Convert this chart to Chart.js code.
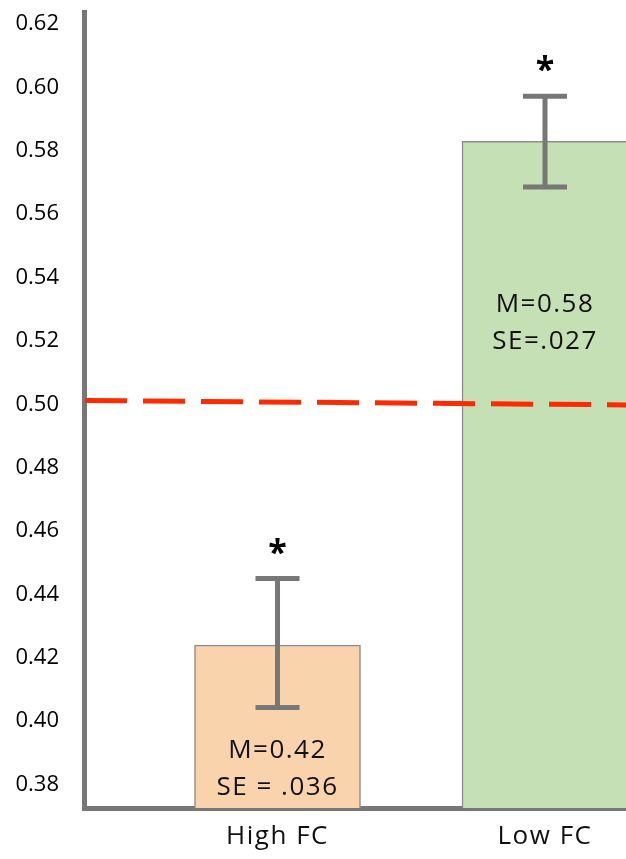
<!DOCTYPE html>
<html>
<head>
<meta charset="utf-8">
<script src="https://cdn.jsdelivr.net/npm/chart.js@4/dist/chart.umd.min.js"></script>
<style>
html,body{margin:0;padding:0;background:#fff;overflow:hidden}
#wrap{width:626px;height:859px;position:relative}
</style>
</head>
<body>
<div id="wrap"><canvas id="c" width="626" height="859"></canvas></div>
<script>
// ---- data ----
const categories = ['High FC', 'Low FC'];
const categoryX = [1, 2];
const means = [0.424, 0.583];
const errLow = [0.4043, 0.5686];
const errHigh = [0.4450, 0.5972];
const meanLabels = ['M=0.42', 'M=0.58'];
const seLabels = ['SE = .036', 'SE=.027'];
const significance = ['*', '*'];
const yTicks = [0.38, 0.40, 0.42, 0.44, 0.46, 0.48, 0.50, 0.52, 0.54, 0.56, 0.58, 0.60, 0.62];
const chanceLine = [0.5012, 0.4998]; // value at left end, value at right end (as drawn)

// ---- styling / placement ----
const barColors = ['#F8D3AC', '#C5E0B4'];
const FONT = 'Open Sans';
const textCenters = [0.3850, 0.5256]; // vertical centre of the M/SE text block, in axis units

const overlay = {
  id: 'overlay',
  afterDatasetsDraw(chart) {
    const {ctx, chartArea, scales: {x, y}} = chart;
    ctx.save();
    // dashed reference line
    ctx.strokeStyle = '#FF2A00';
    ctx.lineWidth = 5;
    ctx.setLineDash([42, 16]);
    ctx.beginPath();
    ctx.moveTo(chartArea.left + 1, y.getPixelForValue(chanceLine[0]));
    ctx.lineTo(chartArea.right, y.getPixelForValue(chanceLine[1]));
    ctx.stroke();
    ctx.setLineDash([]);
    // error bars
    ctx.strokeStyle = '#777777';
    ctx.lineWidth = 5;
    ctx.lineCap = 'butt';
    categoryX.forEach((cv, i) => {
      const cx = x.getPixelForValue(cv);
      const yt = y.getPixelForValue(errHigh[i]);
      const yb = y.getPixelForValue(errLow[i]);
      ctx.beginPath();
      ctx.moveTo(cx, yt); ctx.lineTo(cx, yb);
      ctx.moveTo(cx - 22, yt); ctx.lineTo(cx + 22, yt);
      ctx.moveTo(cx - 22, yb); ctx.lineTo(cx + 22, yb);
      ctx.stroke();
      // significance mark
      ctx.fillStyle = '#000';
      ctx.textAlign = 'center';
      ctx.textBaseline = 'alphabetic';
      ctx.font = `bold 34px "${FONT}"`;
      ctx.fillText(significance[i], cx, yt - 15);
      // M / SE text
      ctx.fillStyle = '#111';
      ctx.font = `500 26px "${FONT}"`;
      ctx.letterSpacing = '1.5px';
      ctx.textBaseline = 'middle';
      const tc = y.getPixelForValue(textCenters[i]);
      ctx.fillText(meanLabels[i], cx, tc - 18.5);
      ctx.fillText(seLabels[i], cx, tc + 18.5);
      ctx.letterSpacing = '0px';
    });
    ctx.restore();
    // spacing for the category labels drawn in the next (z=1) layer
    ctx.letterSpacing = '1.5px';
  },
  afterDraw(chart) {
    chart.ctx.letterSpacing = '0px';
  }
};

new Chart(document.getElementById('c'), {
  type: 'bar',
  data: {
    datasets: [{
      data: categoryX.map((v, i) => ({x: v, y: means[i]})),
      backgroundColor: barColors,
      borderColor: '#8C8C8C',
      borderWidth: 1.5,
      barThickness: 166
    }]
  },
  options: {
    responsive: false,
    devicePixelRatio: 1,
    animation: false,
    layout: {padding: {top: 12, left: 0, right: 0, bottom: 0}},
    plugins: {legend: {display: false}, tooltip: {enabled: false}},
    scales: {
      x: {
        type: 'linear',
        offset: false,
        min: 0.2766,
        max: 2.3028,
        grid: {display: false, drawTicks: false, offset: false},
        border: {display: true, color: '#777777', width: 5},
        afterBuildTicks: s => { s.ticks = categoryX.map(v => ({value: v})); },
        afterFit: s => { s.height = 51; s.paddingLeft = 0; s.paddingRight = 0; },
        ticks: {
          z: 1,
          autoSkip: false,
          maxRotation: 0,
          padding: 13,
          color: '#111',
          font: {family: FONT, size: 26, weight: '500'},
          callback: v => { const k = categoryX.indexOf(v); return k >= 0 ? categories[k] : ''; }
        }
      },
      y: {
        type: 'linear',
        beginAtZero: false,
        min: 0.37259,
        max: 0.62379,
        grid: {display: false, drawTicks: false},
        border: {display: true, color: '#777777', width: 5},
        afterBuildTicks: s => { s.ticks = yTicks.map(v => ({value: v})); },
        afterFit: s => { s.width = 84; s.paddingTop = 0; s.paddingBottom = 0; },
        ticks: {
          padding: 25,
          color: '#000',
          font: {family: FONT, size: 22, weight: '500'},
          callback: v => Number(v).toFixed(2)
        }
      }
    }
  },
  plugins: [overlay]
});
</script>
</body>
</html>
